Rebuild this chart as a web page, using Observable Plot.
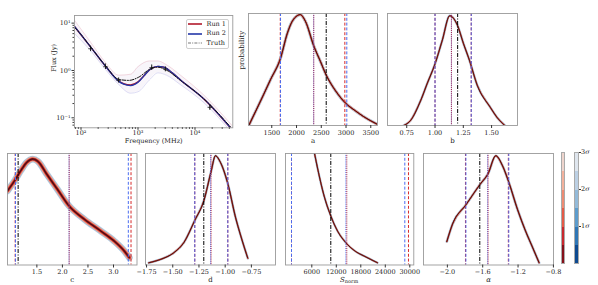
<!DOCTYPE html>
<html><head><meta charset="utf-8">
<script src="https://cdn.jsdelivr.net/npm/d3@7"></script>
<script src="https://cdn.jsdelivr.net/npm/@observablehq/plot@0.6"></script>
<style>
body{margin:0;background:#fff;}
#root{position:relative;width:598px;height:285px;overflow:hidden;font-family:"DejaVu Serif",serif;color:#222;}
.panel{position:absolute;}
.lg{position:absolute;font-size:6.5px;line-height:1;white-space:nowrap;}
</style></head><body><div id="root"></div>
<script>
// ---------- SED panel data ----------
const truthFreq = [76.9,100,147,269,461,692,1033,1656,2228,3236,5559,14290,46030];
const truthFlux = [8.22,5.75,3.16,1.26,0.646,0.617,0.724,1.084,1.175,1.0,0.617,0.251,0.0562];
const runFreq = [76.9,147,269,461,562,741,1000,1259,1660,2239,2818,3981,5559,14290,46030];
const run1Flux = [8.51,3.16,1.23,0.596,0.525,0.495,0.575,0.767,1.072,1.216,1.175,0.891,0.631,0.251,0.0537];
const run2Flux = [8.51,3.16,1.23,0.589,0.513,0.479,0.562,0.759,1.072,1.216,1.175,0.891,0.631,0.251,0.0537];
const envFreq = [76.9,147,269,461,741,1000,1585,2239,3162,5559,14290,46030];
const envUp = [11.5,3.98,1.48,0.794,0.832,1.2,1.585,1.585,1.318,0.794,0.302,0.066];
const envLo = [6.03,2.63,1.047,0.501,0.331,0.355,0.631,0.891,0.794,0.501,0.209,0.0457];
const obsFreq = [147,269,457,1738,3020,18200];
const obsFlux = [2.88,1.2,0.62,1.15,1.07,0.166];
const obsLo = [2.5,1.05,0.55,1.0,0.95,0.145];
const obsHi = [3.3,1.38,0.70,1.32,1.2,0.19];
const sedXTicks = [1e2,1e3,1e4];
const sedYTicks = [0.1,1,10];

// ---------- posterior density panels ----------
const aX = [1036,1339,1475,1677,1812,1913,2014,2075,2180,2349,2485,2600,2788,2990,3192,3354,3636];
const aY = [0.0,0.28,0.41,0.60,0.82,0.93,0.98,0.99,0.93,0.71,0.57,0.45,0.31,0.20,0.13,0.08,0.01];
const bX = [0.724,0.784,0.872,0.931,1.00,1.064,1.13,1.196,1.252,1.305,1.373,1.49,1.55,1.617];
const bY = [0,0.045,0.22,0.375,0.55,0.76,0.98,0.9,0.73,0.58,0.36,0.16,0.07,0.0];
const cX = [0.925,1.07,1.19,1.30,1.42,1.52,1.70,1.90,2.13,2.43,2.75,3.01,3.21,3.31];
const cY = [0.665,0.76,0.85,0.92,0.95,0.93,0.81,0.68,0.53,0.41,0.305,0.216,0.126,0.066];
const dX = [-1.729,-1.617,-1.49,-1.395,-1.29,-1.204,-1.134,-1.093,-1.045,-0.975,-0.902,-0.838,-0.784];
const dY = [0.02,0.05,0.11,0.20,0.40,0.575,0.84,0.98,0.92,0.73,0.43,0.22,0.06];
const sX = [6560,7400,9010,10650,12370,14330,16780,18810,22090];
const sY = [1.02,0.87,0.62,0.44,0.30,0.20,0.12,0.08,0.02];
const alphaX = [-2.006,-1.94,-1.79,-1.633,-1.539,-1.452,-1.376,-1.308,-1.207,-1.113,-1.037,-0.962];
const alphaY = [0.21,0.37,0.54,0.72,0.82,0.98,0.89,0.75,0.50,0.30,0.16,0.02];

// quantile lines [low, median, high]
const aRun1 = [1672,2349,2976], aRun2 = [1677,2345,3016], aTruth = 2600;
const bRun1 = [1.0,1.145,1.32], bRun2 = [1.0,1.145,1.32], bTruth = 1.20;
const cRun1 = [1.075,2.133,3.343], cRun2 = [1.082,2.13,3.29], cTruth = 1.133;
const dRun1 = [-1.29,-1.134,-0.975], dRun2 = [-1.29,-1.14,-0.975], dTruth = -1.204;
const sRun1 = [1030,14570,29680], sRun2 = [1030,14330,28780], sTruth = 10650;
const alphaRun1 = [-1.795,-1.539,-1.31], alphaRun2 = [-1.79,-1.545,-1.305], alphaTruth = -1.633;

const aTicks = [1500,2000,2500,3000,3500];
const bTicks = [0.75,1.00,1.25,1.50];
const cTicks = [1.5,2.0,2.5,3.0];
const dTicks = [-1.75,-1.50,-1.25,-1.00,-0.75];
const sTicks = [6000,12000,18000,24000,30000];
const alphaTicks = [-2.0,-1.6,-1.2,-0.8];

// colour bar
const sigmaEdges = [0,0.5,1,1.5,2,2.5,3];
const sigmaLabels = [1,2,3];
const redsBar = ["#85101a","#c8282e","#e45a47","#ee8b73","#f3b19c","#eed4cc"];
const bluesBar = ["#0e4a90","#2f76b5","#5d9ccc","#93bad9","#bcd0e4","#dfe6ee"];

// ---------- helpers ----------
const root = document.getElementById("root");
const ML = 40, MR = 14, MT = 6, MB = 30;
const FONT = "DejaVu Serif";
function place(node, left, top){
  const d = document.createElement("div");
  d.className = "panel"; d.style.left = left + "px"; d.style.top = top + "px";
  d.appendChild(node); root.appendChild(d); return d;
}
const styleObj = {fontFamily: FONT, fontSize: "6.5px", background: "transparent", overflow: "visible", maxWidth: "none", color: "#222"};
const minus = s => s.replace("-", "\u2212");

function densityPanel(p){
  const data = p.x.map((x, i) => ({x, y: p.y[i]}));
  const w = p.spread;
  const fan = [
    {c: bluesBar[3], k: 0.9, add: 0.9, o: 0.75},
    {c: bluesBar[1], k: 0.7, add: 0.5, o: 0.35},
    {c: redsBar[4], k: 0.7, add: 0.4, o: 0.95},
    {c: redsBar[2], k: 0.5, add: 0.3, o: 0.95},
    {c: redsBar[0], k: 0.28, add: 0.3, o: 0.95}
  ];
  const marks = [];
  for (const f of fan) marks.push(Plot.line(data, {x: "x", y: "y", curve: "monotone-x", stroke: f.c, strokeOpacity: f.o, strokeWidth: w * f.k + f.add, clip: true}));
  marks.push(Plot.line(data, {x: "x", y: "y", curve: "monotone-x", stroke: "#1a0808", strokeWidth: 0.9, strokeOpacity: 0.7, strokeDasharray: "1.2,0.7", clip: true}));
  const r1 = p.run1, r2 = p.run2;
  marks.push(Plot.ruleX([r1[0], r1[2]], {stroke: "#d62a2a", strokeWidth: 1, strokeDasharray: "3,1.8"}));
  marks.push(Plot.ruleX([r2[0], r2[2]], {stroke: "#4a6cf0", strokeWidth: 1, strokeDasharray: "3,1.8"}));
  marks.push(Plot.ruleX([r2[1]], {stroke: "#4a6cf0", strokeWidth: 0.9, strokeDasharray: "1,0.9"}));
  marks.push(Plot.ruleX([r1[1]], {stroke: "#b0203a", strokeWidth: 0.9, strokeDasharray: "1,0.9"}));
  marks.push(Plot.ruleX([p.truth], {stroke: "#000", strokeWidth: 1, strokeDasharray: "4,1.5,1,1.5"}));
  marks.push(Plot.frame({stroke: "#9a9a9a", strokeWidth: 0.9}));
  marks.push(Plot.axisX({ticks: p.ticks, tickFormat: p.fmt, tickSize: 3, tickPadding: 1.5, label: null, stroke: "#333", fill: "#222"}));
  if (p.label) marks.push(Plot.text([p.label], {text: d => d, frameAnchor: "bottom", dy: 17, fontSize: 7, fontStyle: p.italic ? "italic" : "normal", fill: "#222"}));
  if (p.ylabel) marks.push(Plot.text([p.ylabel], {text: d => d, frameAnchor: "left", dx: -6.5, rotate: -90, fontSize: 7, fill: "#222"}));
  const fw = p.R - p.L, fh = p.B - p.T;
  const svg = Plot.plot({
    width: fw + ML + MR, height: fh + MT + MB,
    marginLeft: ML, marginRight: MR, marginTop: MT, marginBottom: MB,
    style: styleObj,
    x: {domain: p.domain},
    y: {domain: [0, 1], axis: null},
    marks
  });
  place(svg, p.L - ML, p.T - MT);
  return svg;
}

const fmt2 = d => minus(d.toFixed(2));
const fmt1 = d => minus(d.toFixed(1));
const fmt0 = d => String(d);

densityPanel({x: aX, y: aY, run1: aRun1, run2: aRun2, truth: aTruth, ticks: aTicks, fmt: fmt0, domain: [1030, 3636], L: 248, R: 377, T: 13, B: 125, spread: 2.4, label: "a", ylabel: "probability"});
densityPanel({x: bX, y: bY, run1: bRun1, run2: bRun2, truth: bTruth, ticks: bTicks, fmt: fmt2, domain: [0.58, 1.729], L: 387, R: 517, T: 13, B: 125, spread: 1.8, label: "b"});
densityPanel({x: cX, y: cY, run1: cRun1, run2: cRun2, truth: cTruth, ticks: cTicks, fmt: fmt1, domain: [0.925, 3.46], L: 7, R: 136.5, T: 152.5, B: 264, spread: 6.5, label: "c"});
densityPanel({x: dX, y: dY, run1: dRun1, run2: dRun2, truth: dTruth, ticks: dTicks, fmt: fmt2, domain: [-1.76, -0.52], L: 145, R: 275, T: 152.5, B: 264, spread: 1.8, label: "d"});
const sSvg = densityPanel({x: sX, y: sY, run1: sRun1, run2: sRun2, truth: sTruth, ticks: sTicks, fmt: fmt0, domain: [-440, 30980], L: 284.7, R: 413, T: 152.5, B: 264, spread: 1.6});
densityPanel({x: alphaX, y: alphaY, run1: alphaRun1, run2: alphaRun2, truth: alphaTruth, ticks: alphaTicks, fmt: fmt1, domain: [-2.27, -0.799], L: 422.7, R: 552.7, T: 152.5, B: 264, spread: 2.0, label: "\u03b1", italic: true});

// S_norm label with subscript
{
  const t = d3.select(sSvg).append("text")
    .attr("x", ML + (413 - 284.7) / 2).attr("y", MT + (264 - 152.5) + 17.5)
    .attr("text-anchor", "middle").attr("font-size", 7).attr("fill", "#222").attr("font-family", FONT);
  t.append("tspan").attr("font-style", "italic").text("S");
  t.append("tspan").attr("font-size", 5).attr("dy", 1.4).text("norm");
}

// ---------- SED panel ----------
{
  const L = 74, R = 232.3, T = 15, B = 127.3;
  const env = envFreq.map((f, i) => ({f, up: envUp[i], lo: envLo[i]}));
  const tr = truthFreq.map((f, i) => ({f, v: truthFlux[i]}));
  const r1 = runFreq.map((f, i) => ({f, v: run1Flux[i]}));
  const r2 = runFreq.map((f, i) => ({f, v: run2Flux[i]}));
  const obs = obsFreq.map((f, i) => ({f, v: obsFlux[i], lo: obsLo[i], hi: obsHi[i]}));
  const sup = {"-": "\u207b", "0": "\u2070", "1": "\u00b9", "2": "\u00b2", "3": "\u00b3", "4": "\u2074"};
  const supFmt = v => "10" + String(Math.round(Math.log10(v))).split("").map(c => sup[c]).join("");
  const minorX = [], minorY = [];
  for (const e of [1, 2, 3, 4]) for (let m = 2; m <= 9; m++) { const v = m * 10 ** e; if (v >= 76.9 && v <= 46000) minorX.push(v); }
  for (const e of [-2, -1, 0, 1]) for (let m = 2; m <= 9; m++) { const v = m * 10 ** e; if (v >= 0.0615 && v <= 14.5) minorY.push(v); }
  const svg = Plot.plot({
    width: (R - L) + ML + MR, height: (B - T) + MT + MB,
    marginLeft: ML, marginRight: MR, marginTop: MT, marginBottom: MB,
    style: styleObj,
    x: {type: "log", domain: [76.9, 46000]},
    y: {type: "log", domain: [0.0615, 14.5]},
    marks: [
      Plot.areaY(env, {x: "f", y1: "lo", y2: "up", fill: "#dccbe8", fillOpacity: 0.2, curve: "monotone-x", clip: true}),
      Plot.line(env, {x: "f", y: "up", stroke: "#ebb8c4", strokeWidth: 0.5, curve: "monotone-x", clip: true}),
      Plot.line(env, {x: "f", y: "lo", stroke: "#bcbae8", strokeWidth: 0.5, curve: "monotone-x", clip: true}),
      Plot.line(r1, {x: "f", y: "v", stroke: "#b2182b", strokeWidth: 1.4, curve: "monotone-x", clip: true}),
      Plot.line(r2, {x: "f", y: "v", stroke: "#2436a8", strokeWidth: 1.3, curve: "monotone-x", clip: true}),
      Plot.line(tr, {x: "f", y: "v", stroke: "#111", strokeWidth: 1, strokeDasharray: "4,1.5,1,1.5", curve: "monotone-x", clip: true}),
      Plot.ruleX(obs, {x: "f", y1: "lo", y2: "hi", stroke: "#111", strokeWidth: 0.7}),
      Plot.dot(obs, {x: "f", y: "v", r: 1.6, symbol: "plus", stroke: "#111", strokeWidth: 0.7}),
      Plot.frame({stroke: "#9a9a9a", strokeWidth: 0.9}),
      Plot.axisX({ticks: sedXTicks, tickFormat: supFmt, tickSize: 2.5, tickPadding: 0.5, label: null, stroke: "#333", fill: "#222"}),
      Plot.axisX({ticks: minorX, tickFormat: () => "", tickSize: 1.5, label: null, stroke: "#333"}),
      Plot.axisY({ticks: sedYTicks, tickFormat: supFmt, tickSize: 2.5, tickPadding: 1.5, label: null, stroke: "#333", fill: "#222"}),
      Plot.axisY({ticks: minorY, tickFormat: () => "", tickSize: 1.5, label: null, stroke: "#333"}),
      Plot.text(["Frequency (MHz)"], {text: d => d, frameAnchor: "bottom", dy: 14.8, fontSize: 6.5, fill: "#222"}),
      Plot.text(["Flux (Jy)"], {text: d => d, frameAnchor: "left", dx: -21, rotate: -90, fontSize: 6.5, fill: "#222"})
    ]
  });
  place(svg, L - ML, T - MT);
}

// ---------- legend ----------
{
  const box = document.createElement("div");
  box.style.cssText = "position:absolute;left:185.7px;top:19px;width:43px;height:30px;border:0.7px solid #cfcfcf;border-radius:2px;background:rgba(255,255,255,0.85);box-sizing:border-box;";
  root.appendChild(box);
  const items = [
    {label: "Run 1", color: "#b2182b", w: 1.6, dash: null, y: 24.3},
    {label: "Run 2", color: "#2436a8", w: 1.6, dash: null, y: 34},
    {label: "Truth", color: "#555", w: 0.8, dash: "3,1.2,1,1.2", y: 43.3}
  ];
  for (const it of items) {
    const s = d3.create("svg").attr("width", 15).attr("height", 4)
      .style("position", "absolute").style("left", "187.5px").style("top", (it.y - 2) + "px");
    s.append("line").attr("x1", 0).attr("x2", 14).attr("y1", 2).attr("y2", 2)
      .attr("stroke", it.color).attr("stroke-width", it.w).attr("stroke-dasharray", it.dash);
    root.appendChild(s.node());
    const t = document.createElement("div");
    t.className = "lg"; t.textContent = it.label;
    t.style.left = "206.5px"; t.style.top = (it.y - 3.6) + "px";
    root.appendChild(t);
  }
}

// ---------- colour bars ----------
{
  const top = 152.3, bot = 263.3;
  const sy = d3.scaleLinear().domain([0, 3]).range([bot, top]);
  const bars = [{x: 561, colors: redsBar}, {x: 574.3, colors: bluesBar}];
  for (const b of bars) {
    for (let i = 0; i < sigmaEdges.length - 1; i++) {
      const d = document.createElement("div");
      const y0 = sy(sigmaEdges[i + 1]), y1 = sy(sigmaEdges[i]);
      d.style.cssText = `position:absolute;left:${b.x}px;top:${y0}px;width:4px;height:${y1 - y0 + 0.3}px;background:${b.colors[i]};`;
      root.appendChild(d);
    }
    const fr = document.createElement("div");
    fr.style.cssText = `position:absolute;left:${b.x - 0.4}px;top:${top - 0.4}px;width:4.8px;height:${bot - top + 0.8}px;border:0.4px solid #aaa;box-sizing:border-box;`;
    root.appendChild(fr);
  }
  for (const s of sigmaLabels) {
    const y = sy(s);
    const tk = document.createElement("div");
    tk.style.cssText = `position:absolute;left:578.5px;top:${y - 0.3}px;width:2px;height:0.6px;background:#333;`;
    root.appendChild(tk);
    const t = document.createElement("div");
    t.className = "lg";
    t.innerHTML = `${s}<i>\u03c3</i>`;
    t.style.left = "581px"; t.style.top = (y - 3.6) + "px";
    root.appendChild(t);
  }
}
</script></body></html>
